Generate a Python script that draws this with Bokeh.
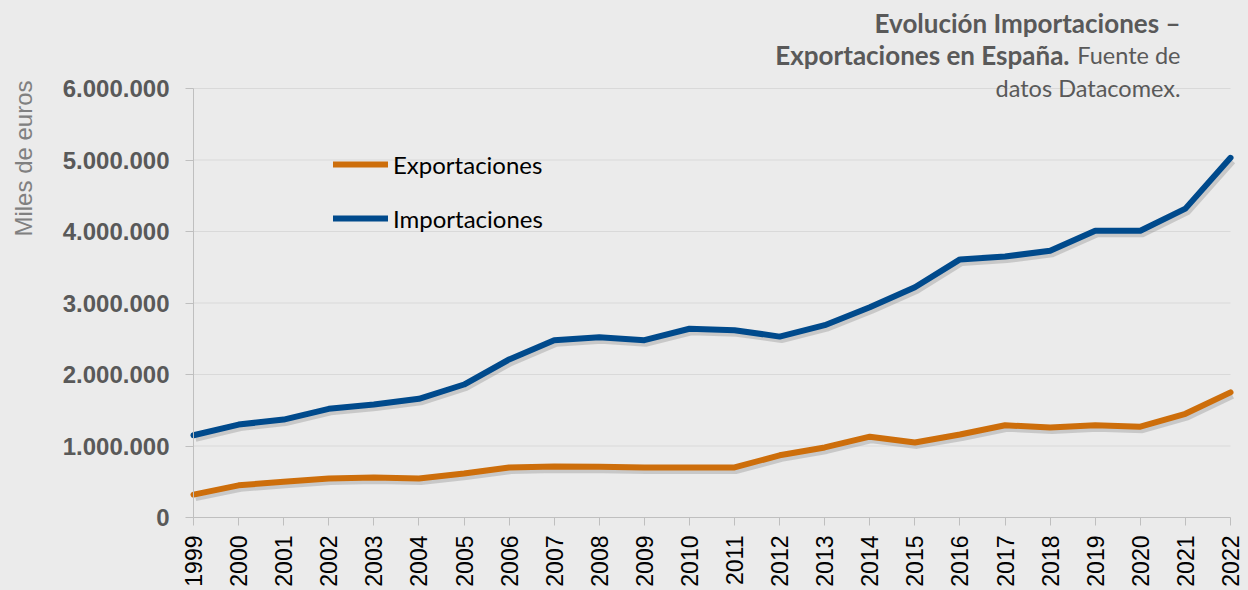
from math import pi
from bokeh.plotting import figure
from bokeh.models import Range1d, FixedTicker, Label, Legend, LegendItem
from bokeh.embed import file_html
from bokeh.resources import INLINE

# ---------------- data ----------------
years = list(range(1999, 2023))
exportaciones = [320000, 450000, 500000, 545000, 560000, 545000, 615000, 700000,
                 715000, 710000, 700000, 700000, 700000, 870000, 980000, 1130000,
                 1050000, 1160000, 1290000, 1260000, 1290000, 1270000, 1450000, 1750000]
importaciones = [1150000, 1300000, 1370000, 1520000, 1580000, 1660000, 1860000, 2210000,
                 2480000, 2520000, 2480000, 2640000, 2620000, 2530000, 2690000, 2940000,
                 3220000, 3610000, 3650000, 3730000, 4010000, 4010000, 4320000, 5030000]
y_ticks = [0, 1000000, 2000000, 3000000, 4000000, 5000000, 6000000]
y_tick_labels = ["0", "1.000.000", "2.000.000", "3.000.000", "4.000.000", "5.000.000", "6.000.000"]
series_names = ["Exportaciones", "Importaciones"]
title_bold_1 = "Evolución Importaciones –"
title_bold_2 = "Exportaciones en España."
title_norm_2 = "Fuente de"
title_norm_3 = "datos Datacomex."
y_label = "Miles de euros"

# ---------------- layout (frame covers the whole canvas; axes are pinned) ----------------
W, H = 1248, 590
AXIS_X_PX = 193        # pixel column of the first year (y axis)
LAST_X_PX = 1230       # pixel column of the last year
AXIS_Y_PX = 517        # pixel row of the zero line (x axis)
GRID_TOP_PX = 88       # pixel row of the highest tick

BG = "#ebebeb"
ORANGE = "#cd6e0b"
BLUE = "#004a8c"
GREY_TXT = "#595959"
AXIS_C = "#bfbfbf"
GRID_C = "#d9d9d9"

x0, x1 = years[0], years[-1]
y0, y1 = y_ticks[0], y_ticks[-1]
ppy = (LAST_X_PX - AXIS_X_PX) / (x1 - x0)            # px per year
x_start = x0 - AXIS_X_PX / ppy
x_end = x1 + (W - LAST_X_PX) / ppy
upp = (y1 - y0) / (AXIS_Y_PX - GRID_TOP_PX)           # value per px
y_start = y0 - (H - AXIS_Y_PX) * upp
y_end = y1 + GRID_TOP_PX * upp

def xd(px):   # image px -> data x
    return x_start + px / ppy

def yd(py):   # image px -> data y
    return y_end - py * upp

p = figure(width=W, height=H, output_backend="svg", toolbar_location=None,
           x_range=Range1d(x_start, x_end), y_range=Range1d(y_start, y_end),
           min_border_left=0, min_border_right=0, min_border_top=0, min_border_bottom=0,
           background_fill_color=BG, border_fill_color=BG)
p.outline_line_color = None

# shadow ranges (offset a few pixels right/down)
sdx = 2 / ppy
sdy = 3 * upp
p.extra_x_ranges = {"sh": Range1d(x_start - sdx, x_end - sdx)}
p.extra_y_ranges = {"sh": Range1d(y_start + sdy, y_end + sdy)}

# x axis pinned at zero
p.xaxis.fixed_location = y0
p.xaxis.ticker = FixedTicker(ticks=years)
p.xaxis.bounds = (x0, x1)
p.xaxis.major_label_orientation = pi / 2
p.xaxis.major_label_text_font = "Liberation Sans"
p.xaxis.major_label_text_font_size = "23px"
p.xaxis.major_label_text_color = "#000000"
p.xaxis.major_label_standoff = 10
p.xaxis.axis_line_color = AXIS_C
p.xaxis.major_tick_line_color = AXIS_C
p.xaxis.major_tick_in = 0
p.xaxis.major_tick_out = 8
p.xaxis.minor_tick_line_color = None

# y axis pinned at the first year
p.yaxis.fixed_location = x0
p.yaxis.ticker = FixedTicker(ticks=y_ticks)
p.yaxis.bounds = (y0, y1)
p.yaxis.major_label_overrides = {t: l for t, l in zip(y_ticks, y_tick_labels)}
p.yaxis.major_label_text_font = "Liberation Sans"
p.yaxis.major_label_text_font_style = "bold"
p.yaxis.major_label_text_font_size = "24px"
p.yaxis.major_label_text_color = GREY_TXT
p.yaxis.major_label_standoff = 16
p.yaxis.axis_line_color = AXIS_C
p.yaxis.major_tick_line_color = AXIS_C
p.yaxis.major_tick_in = 0
p.yaxis.major_tick_out = 8
p.yaxis.minor_tick_line_color = None

# horizontal grid lines, limited to the plotted years
p.xgrid.visible = False
p.ygrid.visible = False
p.segment(x0=[x0] * (len(y_ticks) - 1), x1=[x1] * (len(y_ticks) - 1),
          y0=y_ticks[1:], y1=y_ticks[1:], line_color=GRID_C, line_width=1)

# shadows
for vals in (exportaciones, importaciones):
    p.line(years, vals, line_color="#6e6e6e", line_alpha=0.28, line_width=7,
           line_join="round", x_range_name="sh", y_range_name="sh")

r_exp = p.line(years, exportaciones, line_color=ORANGE, line_width=6, line_join="round", line_cap="round")
r_imp = p.line(years, importaciones, line_color=BLUE, line_width=6, line_join="round", line_cap="round")

legend = Legend(items=[LegendItem(label=series_names[0], renderers=[r_exp]),
                       LegendItem(label=series_names[1], renderers=[r_imp])],
                location=(333, H - 233),
                border_line_color=None, background_fill_alpha=0, padding=0, margin=0,
                spacing=24, glyph_width=55, glyph_height=30, label_height=30,
                label_standoff=5, label_text_font="Lato", label_text_font_size="24px",
                label_text_color="#000000")
p.add_layout(legend)

# y axis title, top aligned as in the reference
p.add_layout(Label(x=xd(23), y=yd(158), text=y_label, angle=pi / 2,
                   text_align="center", text_baseline="middle",
                   text_font="Liberation Sans", text_font_size="24px", text_color="#808080"))

# title block (right aligned)
TB = "26px"
TN = "23.5px"
p.add_layout(Label(x=xd(1180), y=yd(22), text=title_bold_1, text_align="right",
                   text_baseline="alphabetic", text_font="Lato", text_font_style="bold",
                   text_font_size=TB, text_color=GREY_TXT))
p.add_layout(Label(x=xd(1069), y=yd(54), text=title_bold_2, text_align="right",
                   text_baseline="alphabetic", text_font="Lato", text_font_style="bold",
                   text_font_size=TB, text_color=GREY_TXT))
p.add_layout(Label(x=xd(1180), y=yd(54), text=title_norm_2, text_align="right",
                   text_baseline="alphabetic", text_font="Lato",
                   text_font_size=TN, text_color=GREY_TXT))
p.add_layout(Label(x=xd(1180), y=yd(87), text=title_norm_3, text_align="right",
                   text_baseline="alphabetic", text_font="Lato",
                   text_font_size=TN, text_color=GREY_TXT))

tmpl = "{% block preamble %}<style>html, body { background: #ebebeb; }</style>{% endblock %}"
try:
    html = file_html(p, INLINE, "Evolución Importaciones – Exportaciones", template=tmpl)
except Exception:
    html = file_html(p, INLINE, "Evolución Importaciones – Exportaciones")
open("out.html", "w").write(html)
